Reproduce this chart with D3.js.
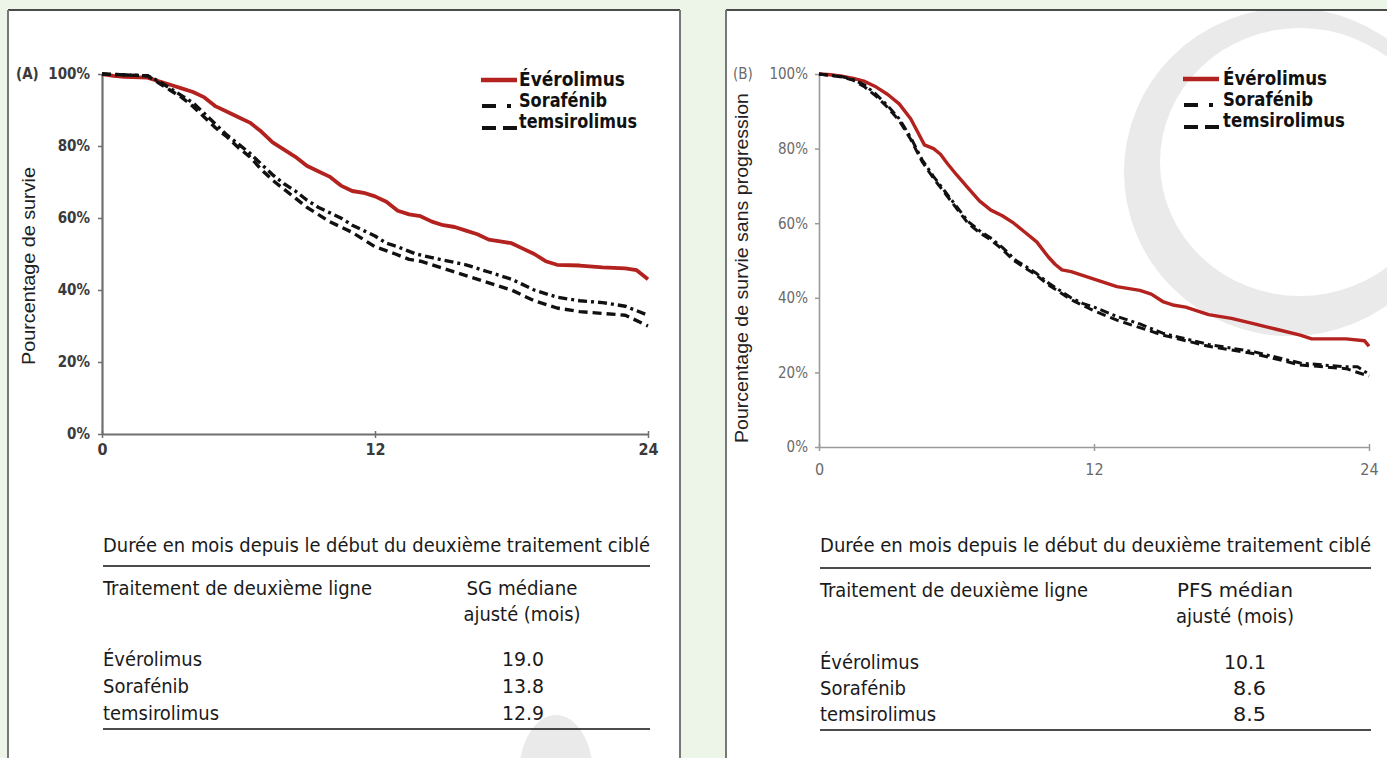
<!DOCTYPE html>
<html><head><meta charset="utf-8">
<script src="https://cdn.jsdelivr.net/npm/d3@7"></script>
<style>
html,body{margin:0;padding:0;background:#edf5e9;}
svg{display:block;}
</style></head>
<body>
<svg id="chart" width="1387" height="758"></svg>
<script>
// ---------------- DATA ----------------
const seriesNames = ["Évérolimus", "Sorafénib", "temsirolimus"];
const xTicks = [0, 12, 24];
const yTicks = [0, 20, 40, 60, 80, 100];
const panelLetters = ["(A)", "(B)"];
const yTitles = ["Pourcentage de survie", "Pourcentage de survie sans progression"];
const xTitle = "Durée en mois depuis le début du deuxième traitement ciblé";
const tableRowHeader = "Traitement de deuxième ligne";
const tableColHeadersA = ["SG médiane", "ajusté (mois)"];
const tableColHeadersB = ["PFS médian", "ajusté (mois)"];
const mediansA = ["19.0", "13.8", "12.9"];
const mediansB = ["10.1", "8.6", "8.5"];

// Panel A : overall survival  [month, %]
const osEverolimus = [[0,100],[0.5,99.5],[1,99.2],[2,99],[2.5,98],[3,97],[3.5,96],[4,95],[4.5,93.5],[5,91],[5.5,89.5],[6,88],[6.5,86.5],[7,84],[7.5,81],[8,79],[8.5,77],[9,74.5],[9.5,73],[10,71.5],[10.5,69],[11,67.5],[11.5,67],[12,66],[12.5,64.5],[13,62],[13.5,61],[14,60.5],[14.5,59],[15,58],[15.5,57.5],[16,56.5],[16.5,55.5],[17,54],[17.5,53.5],[18,53],[18.5,51.5],[19,50],[19.5,48],[20,47],[21,46.8],[22,46.3],[23,46],[23.5,45.5],[24,43]];
const osSorafenib = [[0,100],[2,99.5],[2.5,98],[3,96],[3.5,94],[4,92],[4.5,89],[5,86],[5.5,83],[6,80.5],[6.5,78],[7,75],[7.5,72],[8,69.5],[8.5,67.5],[9,65],[9.5,63],[10,61.5],[10.5,60],[11,58],[11.5,56.5],[12,55],[12.5,53],[13,52],[13.8,50],[14.5,49],[15,48.3],[16,47],[17,45],[18,43],[19,40],[20,38],[21,37],[22,36.5],[23,35.5],[24,33]];
const osTemsirolimus = [[0,100],[2,99.5],[2.5,97.5],[3,95.5],[3.5,93.5],[4,91],[4.5,88],[5,85],[5.5,82.5],[6,79.5],[6.5,77],[7,73.5],[7.5,70.5],[8,68],[8.5,65.5],[9,63],[9.5,61],[10,59],[10.5,57.5],[11,56],[11.5,54],[12,52],[12.9,50],[13.5,48.5],[14,48],[15,46],[16,44],[17,42],[18,40],[19,37],[20,35],[21,34],[22,33.5],[23,33],[24,30]];

// Panel B : progression-free survival [month, %]
const pfsEverolimus = [[0,100],[0.5,99.8],[1,99.4],[1.5,98.8],[2,98],[2.5,96.5],[3,94.5],[3.5,92],[4,88],[4.3,84.5],[4.6,81],[5,80],[5.3,78.5],[5.6,76],[6,73],[6.5,69.5],[7,66],[7.5,63.5],[8,62],[8.5,60],[9,57.5],[9.5,55],[10,51],[10.3,49],[10.6,47.5],[11,47],[11.5,46],[12,45],[13,43],[14,42],[14.5,41],[15,39],[15.5,38],[16,37.5],[17,35.5],[18,34.5],[19,33],[20,31.5],[21,30],[21.5,29],[23,29],[23.8,28.5],[24,27]];
const pfsSorafenib = [[0,100],[1,99.3],[1.5,98.5],[2,97],[2.5,94.5],[3,91.5],[3.5,88],[4,83],[4.5,77],[5,72.5],[5.5,68.5],[6,64.5],[6.5,60.5],[7,58],[7.5,56],[8,53.5],[8.6,50],[9,48.5],[9.5,46.5],[10,44],[10.5,42],[11,40],[11.5,38.5],[12,37.5],[13,35],[14,33],[15,30.5],[16,29],[17,27.5],[18,26.5],[19,25.5],[20,24],[21,22.5],[22,22],[23,21.5],[23.5,21.5],[24,19.5]];
const pfsTemsirolimus = [[0,100],[1,99.2],[1.5,98.3],[2,96.5],[2.5,94],[3,91],[3.5,87.5],[4,82.5],[4.5,76.5],[5,72],[5.5,68],[6,64],[6.5,60],[7,57.5],[7.5,55.5],[8,53],[8.5,50],[9,48],[9.5,46],[10,43.5],[10.5,41.5],[11,39.5],[11.5,38],[12,36.5],[13,34],[14,32],[15,30],[16,28.5],[17,27],[18,26],[19,25],[20,23.5],[21,22],[22,21.5],[23,21],[24,19]];

// ---------------- LAYOUT ----------------
const svg = d3.select("#chart");
const NARROW = "'Liberation Sans Narrow','Arial Narrow','DejaVu Sans Condensed',sans-serif";
const SANS = "'Liberation Sans',Arial,Helvetica,sans-serif";
const RED = "#b3221e";
const styles = [
  {color: RED, dash: null},
  {color: "#111", dash: "9,4,3,4"},
  {color: "#111", dash: "9,5"}
];

svg.append("rect").attr("width",1387).attr("height",758).attr("fill","#edf5e9");
const panels = [
  {x0: 8, x1: 680},
  {x0: 726, x1: 1392}
];
panels.forEach(p => {
  svg.append("rect").attr("x",p.x0).attr("y",10).attr("width",p.x1-p.x0).attr("height",760).attr("fill","#fff");
});

// watermark (light grey logo shapes), clipped to the panels
const defs = svg.append("defs");
defs.append("clipPath").attr("id","clipB").append("rect").attr("x",726).attr("y",10).attr("width",670).attr("height",760);
const wm = svg.append("g").attr("fill","#eaeaea");
wm.append("ellipse").attr("cx",556).attr("cy",775).attr("rx",37).attr("ry",60);
const ring = (cx,cy,rx,ry, icx,icy,irx,iry) =>
  `M${cx-rx},${cy}a${rx},${ry} 0 1,0 ${2*rx},0a${rx},${ry} 0 1,0 ${-2*rx},0Z` +
  `M${icx-irx},${icy}a${irx},${iry} 0 1,1 ${2*irx},0a${irx},${iry} 0 1,1 ${-2*irx},0Z`;
wm.append("path").attr("clip-path","url(#clipB)").attr("fill-rule","evenodd")
  .attr("d", ring(1290,172,166,164, 1300,162,140,134));

panels.forEach(p => {
  svg.append("line").attr("x1",p.x0).attr("x2",p.x1).attr("y1",10).attr("y2",10).attr("stroke","#111").attr("stroke-width",1.5);
  svg.append("line").attr("x1",p.x0).attr("x2",p.x0).attr("y1",10).attr("y2",758).attr("stroke","#777").attr("stroke-width",2);
  svg.append("line").attr("x1",p.x1).attr("x2",p.x1).attr("y1",10).attr("y2",758).attr("stroke","#777").attr("stroke-width",2);
});

function drawPanel(cfg) {
  const x = d3.scaleLinear().domain([0,24]).range([cfg.xl, cfg.xr]);
  const y = d3.scaleLinear().domain([0,100]).range([cfg.yb, cfg.yt]);
  const g = svg.append("g");

  const ya = g.append("g").attr("transform",`translate(${cfg.xl},0)`)
    .call(d3.axisLeft(y).tickValues(yTicks).tickFormat(d => d + "%").tickSize(4).tickSizeOuter(0).tickPadding(cfg.ytp));
  ya.select(".domain").attr("stroke",cfg.axisColor).attr("stroke-width",cfg.axisW);
  ya.selectAll(".tick line").attr("stroke",cfg.axisColor).attr("stroke-width",1.5);
  ya.selectAll(".tick text").attr("font-family",NARROW).attr("font-size",cfg.tickFs).attr("font-weight",cfg.tickWeight).attr("fill",cfg.tickColor);

  const xa = g.append("g").attr("transform",`translate(0,${cfg.yb})`)
    .call(d3.axisBottom(x).tickValues(xTicks).tickSize(4).tickSizeOuter(0).tickPadding(cfg.xtp));
  xa.select(".domain").attr("stroke",cfg.axisColor).attr("stroke-width",cfg.axisW);
  xa.selectAll(".tick line").attr("stroke",cfg.axisColor).attr("stroke-width",1.5).attr("y1",-3);
  xa.selectAll(".tick text").attr("font-family",NARROW).attr("font-size",cfg.tickFs+1).attr("font-weight",cfg.tickWeight).attr("fill",cfg.tickColor);

  g.append("text").attr("x",cfg.letterX).attr("y",y(100)).attr("dy","0.32em")
    .attr("font-family",NARROW).attr("font-size",cfg.tickFs).attr("font-weight",cfg.tickWeight).attr("fill",cfg.tickColor)
    .text(cfg.letter);

  g.append("text").attr("transform",`translate(${cfg.titleX},${cfg.titleY}) rotate(-90)`)
    .attr("text-anchor","middle").attr("dy","0.35em")
    .attr("font-family",SANS).attr("font-size",18).attr("fill","#222")
    .attr("textLength",cfg.titleLen).attr("lengthAdjust","spacingAndGlyphs")
    .text(cfg.yTitle);

  const line = d3.line().x(d => x(d[0])).y(d => y(d[1]));
  cfg.series.forEach((s,i) => {
    g.append("path").datum(s).attr("d",line).attr("fill","none")
      .attr("stroke",styles[i].color).attr("stroke-width",i===0?cfg.redW:cfg.blackW)
      .attr("stroke-dasharray",styles[i].dash).attr("stroke-linejoin","round");
  });

  const lg = g.append("g");
  const lx = cfg.legX;
  const rows = cfg.legRows;
  lg.append("line").attr("x1",lx).attr("x2",lx+36).attr("y1",rows[0]+1).attr("y2",rows[0]+1).attr("stroke",RED).attr("stroke-width",4.5);
  lg.append("line").attr("x1",lx+1).attr("x2",lx+15).attr("y1",rows[1]+6).attr("y2",rows[1]+6).attr("stroke","#111").attr("stroke-width",4);
  lg.append("rect").attr("x",lx+26).attr("y",rows[1]+4).attr("width",4).attr("height",4).attr("fill","#111");
  lg.append("line").attr("x1",lx+1).attr("x2",lx+15).attr("y1",rows[2]+7).attr("y2",rows[2]+7).attr("stroke","#111").attr("stroke-width",4);
  lg.append("line").attr("x1",lx+22).attr("x2",lx+36).attr("y1",rows[2]+7).attr("y2",rows[2]+7).attr("stroke","#111").attr("stroke-width",4);
  seriesNames.forEach((n,i) => {
    lg.append("text").attr("x",lx+cfg.legTextDx).attr("y",rows[i]).attr("dy","0.36em")
      .attr("font-family",NARROW).attr("font-size",19).attr("font-weight","bold").attr("fill","#111")
      .attr("textLength",cfg.legLens[i]).attr("lengthAdjust","spacingAndGlyphs")
      .text(n);
  });

  const t = g.append("g").attr("font-family",NARROW).attr("font-size",19).attr("fill","#1a1a1a");
  const tx0 = cfg.xl + 1, tx1 = cfg.xr + 2;
  const T = cfg.table;
  const addText = (str, xx, yy, len, anchor) => t.append("text").attr("x",xx).attr("y",yy).attr("dy","0.36em")
      .attr("text-anchor",anchor||"start").attr("textLength",len).attr("lengthAdjust","spacingAndGlyphs").text(str);
  addText(xTitle, tx0, T.title, tx1 - tx0);
  t.append("line").attr("x1",tx0).attr("x2",tx1).attr("y1",T.rule1).attr("y2",T.rule1).attr("stroke","#111").attr("stroke-width",1.3);
  addText(tableRowHeader, tx0, T.head1, T.headLen);
  addText(cfg.colHeaders[0], T.colCx, T.head1, T.colLens[0], "middle");
  addText(cfg.colHeaders[1], T.colCx, T.head2, T.colLens[1], "middle");
  seriesNames.forEach((n,i) => {
    addText(n, tx0, T.rows[i], T.nameLens[i]);
    addText(cfg.medians[i], T.valRight, T.rows[i], cfg.medians[i].length === 4 ? 42 : 33, "end");
  });
  t.append("line").attr("x1",tx0).attr("x2",tx1).attr("y1",T.rule2).attr("y2",T.rule2).attr("stroke","#111").attr("stroke-width",1.3);
}

drawPanel({
  xl: 102, xr: 648, yb: 434, yt: 74,
  axisColor: "#6f6f6f", axisW: 2.2, tickColor: "#3a3a3a", tickFs: 15, tickWeight: "bold", ytp: 8, xtp: 6,
  letter: panelLetters[0], letterX: 16,
  yTitle: yTitles[0], titleX: 29, titleY: 266, titleLen: 198,
  series: [osEverolimus, osSorafenib, osTemsirolimus], redW: 3.8, blackW: 3.4,
  legX: 481, legRows: [79, 100, 121], legTextDx: 38, legLens: [106, 88, 118],
  colHeaders: tableColHeadersA, medians: mediansA,
  table: {title: 545, rule1: 566, head1: 588, head2: 614, rows: [659, 686, 713], rule2: 729,
          headLen: 269, colCx: 522, colLens: [111, 117], nameLens: [99, 86, 116], valRight: 544}
});

drawPanel({
  xl: 819, xr: 1369, yb: 447, yt: 74,
  axisColor: "#9a9a9a", axisW: 1.6, tickColor: "#6a6a6a", tickFs: 15, tickWeight: "normal", ytp: 7, xtp: 13,
  letter: panelLetters[1], letterX: 733,
  yTitle: yTitles[1], titleX: 742, titleY: 268, titleLen: 350,
  series: [pfsEverolimus, pfsSorafenib, pfsTemsirolimus], redW: 3.4, blackW: 3,
  legX: 1183, legRows: [78, 99, 120], legTextDx: 40, legLens: [104, 90, 122],
  colHeaders: tableColHeadersB, medians: mediansB,
  table: {title: 545, rule1: 568, head1: 590, head2: 616, rows: [662, 688, 714], rule2: 730,
          headLen: 268, colCx: 1235, colLens: [116, 118], nameLens: [99, 86, 116], valRight: 1266}
});
</script>
</body></html>
